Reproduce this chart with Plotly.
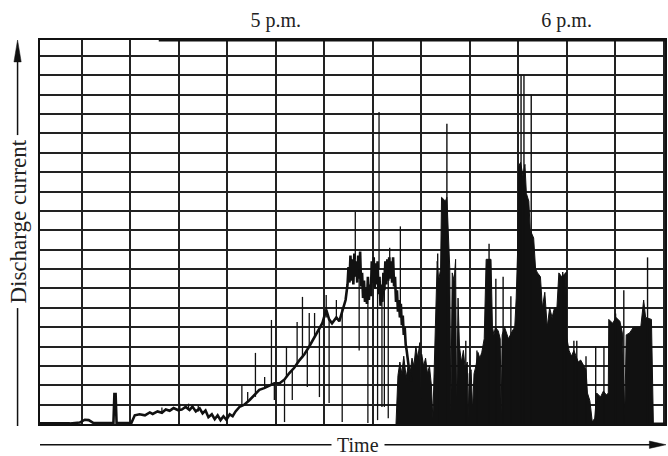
import plotly.graph_objects as go

# time axis: minutes after 4 p.m.; current: chart divisions
trend_t = [11.35, 17.5, 19.6, 20.6, 21.4, 22.4, 26.5, 26.7, 26.95, 27.15, 30.2, 30.9, 31.9, 33.0,
           34.0, 34.6, 35.6, 36.5, 37.3, 38.1, 38.9, 39.8, 40.6, 41.4, 42.2, 42.8, 43.5, 44.3,
           44.9, 45.5, 46.1, 46.8, 47.4, 48.0, 48.6, 49.2, 49.8, 50.5, 51.1, 51.7, 52.5, 53.5,
           54.6, 55.6, 56.6, 57.6, 58.7, 59.7, 60.8, 61.8, 62.8, 63.8, 64.9, 65.9, 66.9, 68.0,
           69.0, 69.6, 70.4, 71.0, 71.6, 72.5, 73.1, 73.9, 74.4, 74.8, 75.0, 75.2, 75.4, 75.6,
           75.8, 76.0, 76.2, 76.4, 76.6, 76.8, 77.0, 77.2, 77.4, 77.6, 77.8, 78.0, 78.2, 78.4,
           78.6, 78.8, 79.0, 79.2, 79.4, 79.6, 79.8, 80.0, 80.2, 80.4, 80.6, 80.8, 81.0, 81.2,
           81.4, 81.6, 81.8, 82.0, 82.2, 82.4, 82.6, 82.8, 83.0, 83.2, 83.4, 83.6, 83.8, 84.0,
           84.2, 84.4, 84.6, 84.8, 85.0, 85.2, 85.4, 85.6, 85.8, 86.0, 86.2, 86.4, 86.6, 86.8,
           87.0, 87.5, 88.0]
trend_v = [0.03, 0.03, 0.08, 0.22, 0.2, 0.05, 0.05, 1.55, 1.55, 0.05, 0.05, 0.45, 0.5, 0.45,
           0.6, 0.52, 0.65, 0.58, 0.75, 0.68, 0.82, 0.72, 0.75, 0.88, 0.72, 0.9, 0.65, 0.8,
           0.55, 0.7, 0.35, 0.5, 0.25, 0.45, 0.2, 0.4, 0.22, 0.5, 0.4, 0.65, 0.88, 1.0,
           1.24, 1.5, 1.76, 1.85, 2.0, 2.1, 2.1, 2.3, 2.63, 2.9, 3.3, 3.6, 4.0, 4.5,
           5.0, 5.2, 5.9, 5.4, 5.2, 5.5, 5.3, 6.0, 6.4, 7.2, 8.1, 7.3, 8.7, 7.4,
           8.5, 7.2, 8.8, 7.6, 8.4, 7.3, 8.7, 7.5, 8.9, 7.1, 7.8, 6.5, 7.4, 6.3,
           7.0, 6.2, 7.6, 6.4, 7.2, 6.6, 8.4, 7.3, 8.6, 7.0, 8.3, 7.2, 8.4, 6.7,
           7.6, 6.1, 7.2, 6.3, 7.8, 6.9, 8.4, 7.2, 8.5, 7.4, 8.6, 7.5, 8.4, 7.3,
           8.6, 7.1, 7.6, 6.3, 6.9, 5.8, 6.4, 5.5, 6.2, 5.1, 5.6, 4.6, 5.0, 4.1,
           3.8, 2.8, 2.2]

spike_t = [36.5, 40.2, 42.0, 44.0, 53.0, 54.2, 55.8, 57.7, 59.1, 59.7, 61.8, 62.2, 63.4, 64.4,
           65.5, 66.5, 66.9, 68.0, 69.0, 70.4, 71.0, 72.5, 73.7, 76.4, 77.2, 79.0, 81.0, 81.3,
           81.9, 82.4, 83.2, 83.5, 85.7]
spike_lo = [0.55, 0.7, 0.72, 0.65, 0.95, 1.15, 1.4, 1.85, 2.0, 1.24, 0.1, 2.4, 1.24, 3.1,
            3.4, 1.91, 4.0, 4.5, 1.39, 5.5, 1.08, 5.5, 0.1, 8.5, 3.8, 0.05, 0.2, 8.0,
            0.88, 0.88, 0.3, 8.0, 5.5]
spike_hi = [0.85, 1.05, 1.05, 0.95, 2.0, 1.65, 3.67, 2.43, 5.37, 2.1, 2.3, 4.0, 2.8, 5.27,
            6.56, 3.8, 5.73, 5.73, 5.0, 6.66, 5.4, 6.4, 6.0, 10.95, 8.0, 7.0, 7.5, 16.1,
            7.0, 8.0, 8.0, 9.1, 10.2]

burst_t = [84.8, 85.2, 85.6, 86.0, 86.4, 86.9, 87.3, 87.7, 88.1, 88.5, 88.9, 89.3, 89.7, 89.9,
           90.1, 90.5, 90.9, 91.3, 91.7, 92.1, 92.4, 92.7, 93.0, 93.3, 93.6, 94.0, 94.2, 95.0,
           95.3, 95.6, 95.9, 96.1, 96.4, 96.8, 97.1, 97.3, 97.6, 97.9, 98.3, 98.7, 99.1, 99.5,
           99.7, 99.9, 100.3, 100.6, 100.9, 101.3, 101.7, 102.1, 102.5, 103.0, 103.4, 104.4,
           104.7, 105.0, 105.3, 105.9, 106.3, 106.5, 106.7, 107.2, 108.0, 108.8, 109.3, 109.6,
           109.9, 110.1, 110.5, 111.0, 111.4, 111.7, 112.2, 112.5, 113.2, 113.6, 114.0, 114.6,
           115.0, 115.5, 116.0, 116.5, 117.0, 117.5, 118.0, 118.4, 119.0, 119.8, 120.0, 120.5,
           121.0, 121.5, 122.0, 122.4, 122.9, 123.5, 124.0, 124.3, 124.8, 125.3, 125.8, 126.2,
           127.0, 127.6, 128.2, 128.6, 128.7, 129.5, 130.2, 131.0, 131.5, 132.0, 132.3, 133.0,
           133.8, 135.3, 135.9, 136.3, 137.5, 137.9, 140.3]
burst_v = [0.0, 2.5, 3.2, 2.6, 3.5, 2.4, 3.0, 2.6, 3.4, 3.0, 4.0, 3.4, 4.2, 0.3,
           3.6, 3.0, 3.4, 2.6, 3.0, 2.0, 0.3, 3.0, 6.0, 8.4, 7.4, 8.0, 11.7, 11.5,
           11.7, 10.0, 8.0, 0.5, 7.8, 7.4, 8.5, 0.4, 6.5, 4.0, 3.2, 3.8, 2.8, 3.2,
           0.3, 2.6, 2.8, 0.7, 2.6, 3.0, 3.7, 3.4, 3.7, 4.4, 8.5, 8.5,
           5.0, 4.6, 5.0, 4.8, 4.4, 0.5, 4.6, 5.0, 4.4, 4.8, 5.0, 6.5,
           9.0, 13.3, 13.5, 12.8, 13.4, 11.9, 11.5, 10.0, 9.6, 8.0, 7.8, 7.6,
           6.0, 6.8, 5.0, 6.0, 5.5, 6.0, 6.0, 7.8, 7.6, 7.8, 4.5, 3.8,
           3.5, 3.8, 3.5, 3.2, 3.3, 3.0, 2.8, 1.6, 1.2, 0.1, 0.3, 1.6,
           1.4, 1.7, 1.5, 1.6, 5.4, 5.2, 5.5, 5.3, 4.7, 0.4, 4.6, 4.7,
           5.0, 5.0, 6.4, 5.5, 5.4, 0.05, 0.05]

burst_spike_t = [93.4, 95.3, 99.2, 101.5, 104.0, 105.4, 106.9, 108.5, 110.6, 111.2, 112.7,
                 119.2, 119.9, 121.5, 122.1, 124.0, 126.0, 127.7, 130.1, 131.8, 136.7]
burst_spike_hi = [8.8, 15.5, 4.3, 3.8, 9.3, 7.5, 7.6, 6.6, 18.0, 18.0, 17.0,
                  7.85, 7.85, 4.3, 4.3, 3.5, 4.0, 4.0, 5.7, 6.9, 8.6]

tick_vals = [60, 120]
tick_text = ["5 p.m.", "6 p.m."]

INK = "#111111"
SERIF = "Liberation Serif, Times New Roman, serif"


def segments(ts, lo, hi):
    xs, ys = [], []
    for t, a, b in zip(ts, lo, hi):
        xs += [t, t, None]
        ys += [a, b, None]
    return xs, ys


sx, sy = segments(spike_t, spike_lo, spike_hi)
bx, by = segments(burst_spike_t, [0] * len(burst_spike_t), burst_spike_hi)

fig = go.Figure()
fig.add_trace(go.Scatter(x=burst_t, y=burst_v, mode="lines", fill="tozeroy",
                         fillcolor=INK, line=dict(color=INK, width=1),
                         hoverinfo="skip", showlegend=False))
fig.add_trace(go.Scatter(x=trend_t, y=trend_v, mode="lines",
                         line=dict(color=INK, width=2.6), hoverinfo="skip", showlegend=False))
fig.add_trace(go.Scatter(x=sx, y=sy, mode="lines",
                         line=dict(color=INK, width=1.3), hoverinfo="skip", showlegend=False))
fig.add_trace(go.Scatter(x=bx, y=by, mode="lines",
                         line=dict(color=INK, width=1.4), hoverinfo="skip", showlegend=False))
fig.add_trace(go.Scatter(x=tick_vals, y=[0, 0], xaxis="x2", mode="markers",
                         marker=dict(opacity=0), hoverinfo="skip", showlegend=False))

xr = [11.35, 140.3]
fig.update_layout(
    width=668, height=456,
    margin=dict(l=40, r=1, t=40, b=32),
    paper_bgcolor="white", plot_bgcolor="white",
    xaxis=dict(range=xr, tick0=0, dtick=10, showgrid=True, gridcolor="#222222", gridwidth=1.5,
               showticklabels=False, ticks="", zeroline=False, showline=True, mirror=True,
               linecolor=INK, linewidth=2, fixedrange=True),
    xaxis2=dict(range=xr, overlaying="x", side="top", anchor="y", tickvals=tick_vals,
                ticktext=tick_text, showgrid=False, zeroline=False, showline=False,
                ticks="outside", ticklen=4, tickcolor="rgba(0,0,0,0)", fixedrange=True,
                tickfont=dict(family=SERIF, size=20, color="#222222")),
    yaxis=dict(range=[0, 19.82], tick0=0, dtick=1, showgrid=True, gridcolor="#222222",
               gridwidth=1.5, showticklabels=False, ticks="", zeroline=False, showline=True,
               mirror=True, linecolor=INK, linewidth=2, fixedrange=True),
    shapes=[
        dict(type="line", xref="paper", yref="paper", x0=0.19, x1=1.0, y0=1.0, y1=1.0,
             line=dict(color=INK, width=3)),
        dict(type="line", xref="paper", yref="paper", x0=-0.0359, x1=-0.0359, y0=-0.005, y1=0.95,
             line=dict(color=INK, width=1.5)),
        dict(type="path", xref="paper", yref="paper",
             path="M -0.0417,0.943 L -0.0359,1.0 L -0.0301,0.943 Z",
             fillcolor=INK, line=dict(color=INK, width=0.5)),
        dict(type="line", xref="paper", yref="paper", x0=0.0, x1=0.98, y0=-0.054, y1=-0.054,
             line=dict(color=INK, width=1.5)),
        dict(type="path", xref="paper", yref="paper",
             path="M 0.975,-0.0445 L 1.0016,-0.054 L 0.975,-0.0635 Z",
             fillcolor=INK, line=dict(color=INK, width=0.5)),
    ],
    annotations=[
        dict(text="Discharge current", xref="paper", yref="paper", x=-0.0359, y=0.526,
             textangle=-90, showarrow=False, bgcolor="white", borderpad=4,
             font=dict(family=SERIF, size=23, color="#222222"),
             xanchor="center", yanchor="middle"),
        dict(text="&nbsp;Time&nbsp;", xref="paper", yref="paper", x=0.509, y=-0.054,
             showarrow=False, bgcolor="white", borderpad=0,
             font=dict(family=SERIF, size=20, color="#222222"),
             xanchor="center", yanchor="middle"),
    ],
)

fig.write_html("out.html", post_script="document.body.style.margin='0';",
               config={"displayModeBar": False})
